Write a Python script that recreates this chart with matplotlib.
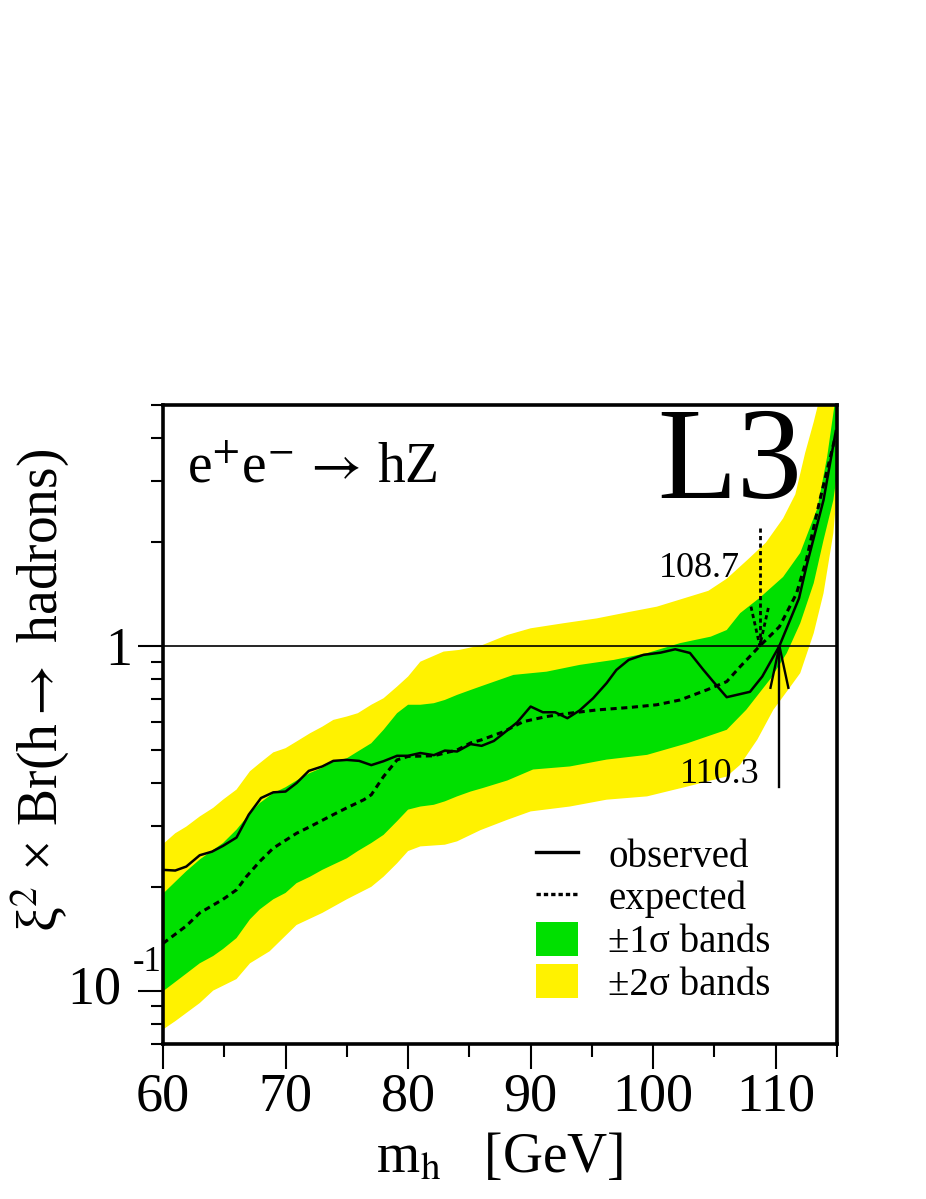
import numpy as np
import matplotlib
matplotlib.use("Agg")
import matplotlib.pyplot as plt
from matplotlib.lines import Line2D
from matplotlib.patches import Patch
from matplotlib.ticker import LogLocator, NullFormatter, FixedLocator, MultipleLocator

plt.rcParams["font.family"] = ["Liberation Serif", "DejaVu Serif"]
plt.rcParams["mathtext.fontset"] = "stix"

# +-2 sigma band (upper / lower edge)
m_2s_hi = [60, 61, 61.9, 63, 64.1, 64.9, 66, 67.1, 67.9, 69, 70, 70.9, 72, 73, 73.9, 75, 75.9, 77, 78, 79.1,
           80, 81, 82.9, 84.2, 86.1, 88.1, 90, 92.7, 95.4, 98.1, 100.3, 102.5, 104.5, 106, 107.7, 109.2,
           110.6, 111.6, 112.4, 113.1, 113.8, 115]
v_2s_hi = [0.266, 0.286, 0.299, 0.320, 0.339, 0.358, 0.383, 0.433, 0.457, 0.491, 0.505, 0.528, 0.558, 0.583,
           0.610, 0.624, 0.638, 0.675, 0.705, 0.762, 0.815, 0.900, 0.963, 0.974, 1.007, 1.076, 1.125, 1.164,
           1.202, 1.256, 1.300, 1.374, 1.445, 1.567, 1.778, 1.995, 2.344, 2.754, 3.631, 4.467, 5.62, 10.0]
m_2s_lo = [60, 61, 63, 64.1, 66, 67.1, 68.7, 70.9, 73, 75, 77, 78, 79.1, 80, 81, 83, 84, 85.9, 88.1, 90,
           93.2, 96.2, 99.5, 102.8, 106, 107.1, 108.5, 109.8, 111.2, 112, 113.1, 113.9, 114.7, 115]
v_2s_lo = [0.0771, 0.0815, 0.0920, 0.100, 0.108, 0.120, 0.130, 0.155, 0.168, 0.184, 0.200, 0.214, 0.234,
           0.254, 0.262, 0.265, 0.271, 0.292, 0.313, 0.331, 0.342, 0.358, 0.366, 0.391, 0.418, 0.452, 0.535,
           0.652, 0.762, 0.834, 1.089, 1.422, 2.123, 2.82]

# +-1 sigma band
m_1s_hi = [60, 61.9, 63, 64.1, 64.9, 66, 67.1, 67.9, 69, 70, 70.9, 72, 73, 73.9, 75, 75.9, 77, 78, 79.1, 80,
           81, 82.1, 83, 84, 85.1, 86.1, 88.6, 91.3, 94, 96.8, 99.5, 102.2, 104.7, 106, 107.1, 108.7, 110.6,
           112, 113.4, 114.2, 115]
v_1s_hi = [0.191, 0.222, 0.240, 0.256, 0.268, 0.293, 0.327, 0.350, 0.374, 0.389, 0.407, 0.428, 0.443, 0.462,
           0.472, 0.494, 0.522, 0.571, 0.638, 0.675, 0.675, 0.682, 0.697, 0.721, 0.745, 0.767, 0.824, 0.842,
           0.881, 0.911, 0.953, 1.019, 1.064, 1.112, 1.245, 1.380, 1.585, 1.862, 2.512, 3.548, 5.623]
m_1s_lo = [60, 61.9, 63, 64.1, 64.9, 66, 67.1, 67.9, 69, 70, 70.9, 72, 73, 73.9, 75, 75.9, 77, 78, 79.1, 80,
           81, 82.1, 83, 84, 85.1, 86.1, 88.1, 90.2, 93.2, 96.2, 99.5, 102.8, 106, 107.6, 109.6, 110.9, 112,
           113.1, 113.9, 114.7, 115]
v_1s_lo = [0.0995, 0.112, 0.120, 0.126, 0.132, 0.142, 0.161, 0.172, 0.184, 0.192, 0.205, 0.214, 0.224, 0.232,
           0.242, 0.254, 0.268, 0.283, 0.310, 0.335, 0.342, 0.346, 0.354, 0.366, 0.378, 0.387, 0.407, 0.438,
           0.447, 0.468, 0.483, 0.522, 0.571, 0.653, 0.805, 0.953, 1.164, 1.521, 2.028, 2.649, 3.162]

# observed limit
m_obs = [60, 61, 61.9, 63, 64, 64.9, 66, 67, 68, 69, 70, 70.9, 71.9, 73, 73.9, 75, 76, 77, 78, 79.1, 80, 81,
         82.1, 83, 84, 85.1, 86, 87, 87.8, 88.9, 90, 91, 92, 93, 94, 95.1, 96.2, 97, 98, 99.2, 100.6, 101.8,
         103, 104.1, 104.9, 106, 107.9, 108.9, 110.3, 111.9, 112.5, 113.9, 114.9]
v_obs = [0.224, 0.223, 0.229, 0.247, 0.253, 0.263, 0.278, 0.324, 0.362, 0.376, 0.378, 0.400, 0.434, 0.447,
         0.464, 0.467, 0.464, 0.451, 0.463, 0.480, 0.480, 0.489, 0.482, 0.497, 0.494, 0.519, 0.513, 0.530,
         0.558, 0.600, 0.667, 0.642, 0.642, 0.617, 0.650, 0.705, 0.780, 0.852, 0.911, 0.942, 0.956, 0.978,
         0.954, 0.852, 0.788, 0.710, 0.736, 0.815, 1.0, 1.375, 1.70, 2.65, 4.2]

# expected limit
m_exp = [60, 61.9, 63, 64.9, 66, 66.8, 67.9, 69, 70.9, 72, 73.9, 75, 76.4, 77, 78, 79.1, 80, 82.1, 84, 85.1,
         86, 87.8, 89.4, 91.3, 93.2, 95.4, 98.1, 100.3, 102.2, 104.4, 106, 107.1, 108.7, 110.3, 111.7, 112.5,
         113.6, 114.9]
v_exp = [0.137, 0.154, 0.168, 0.184, 0.196, 0.214, 0.237, 0.259, 0.286, 0.299, 0.324, 0.339, 0.358, 0.370,
         0.418, 0.467, 0.478, 0.480, 0.499, 0.523, 0.534, 0.564, 0.603, 0.624, 0.638, 0.652, 0.663, 0.675,
         0.697, 0.746, 0.788, 0.871, 1.0, 1.137, 1.42, 1.776, 2.65, 4.1]

lim_exp = 108.7
lim_obs = 110.3

green = "#00e000"
yellow = "#fff200"

fig = plt.figure(figsize=(9.26, 11.99), dpi=100)
ax = fig.add_axes([0.176, 0.1293, 0.7279, 0.5329])

ax.fill(m_2s_hi + m_2s_lo[::-1], v_2s_hi + v_2s_lo[::-1], color=yellow, lw=0)
ax.fill(m_1s_hi + m_1s_lo[::-1], v_1s_hi + v_1s_lo[::-1], color=green, lw=0)
ax.axhline(1.0, color="black", lw=1.2)
ax.plot(m_exp, v_exp, color="black", lw=2.2, linestyle=(0, (2.0, 1.5)))
ax.plot(m_obs, v_obs, color="black", lw=1.8)

# arrows marking the limits
ax.plot([lim_exp, lim_exp], [2.2, 1.0], color="black", lw=2.0, linestyle=(0, (1.5, 1.2)))
ax.plot([lim_exp - 0.72, lim_exp, lim_exp + 0.72], [1.3, 1.0, 1.3], color="black", lw=2.0,
        linestyle=(0, (1.5, 1.2)))
ax.plot([lim_obs, lim_obs], [0.39, 1.0], color="black", lw=1.7)
ax.plot([lim_obs - 0.73, lim_obs, lim_obs + 0.73], [0.756, 1.0, 0.756], color="black", lw=1.7)
ax.text(107.1, 1.585, "108.7", fontsize=26, ha="right", va="baseline")
ax.text(108.65, 0.401, "110.3", fontsize=26, ha="right", va="baseline")

ax.set_yscale("log")
ax.set_xlim(60, 115)
ax.set_ylim(0.07, 5.0)

ax.xaxis.set_major_locator(MultipleLocator(10))
ax.xaxis.set_minor_locator(MultipleLocator(5))
ax.yaxis.set_major_locator(FixedLocator([0.1, 1.0]))
ax.yaxis.set_minor_locator(LogLocator(base=10, subs=np.arange(2, 10)))
ax.yaxis.set_minor_formatter(NullFormatter())
ax.set_yticklabels(["", "1"])

ax.tick_params(axis="both", which="major", direction="out", length=18, width=1.5, labelsize=39)
ax.tick_params(axis="both", which="minor", direction="out", length=9, width=1.5)
ax.tick_params(axis="x", pad=2)
ax.tick_params(axis="y", pad=4)
for s in ax.spines.values():
    s.set_linewidth(2.6)

ax.text(-0.062, 0.1, "10", fontsize=39, ha="right", va="center",
        transform=ax.get_yaxis_transform())
ax.text(-0.024, 0.128, "-1", fontsize=25, ha="center", va="center", transform=ax.transAxes)

ax.set_xlabel(r"m$_{\mathrm{h}}$   [GeV]", fontsize=40)
ax.xaxis.set_label_coords(0.5, -0.137)
ax.set_ylabel(r"ξ$^{2}$ × Br(h$\rightarrow$ hadrons)", fontsize=40)
ax.yaxis.set_label_coords(-0.137, 0.554)

ax.text(0.036, 0.8795, r"e$^{+}$e$^{-}\,\rightarrow\,$hZ", fontsize=40, ha="left", va="baseline",
        transform=ax.transAxes)
ax.text(0.948, 0.854, "L3", fontsize=94, ha="right", va="baseline", transform=ax.transAxes)

handles = [Line2D([], [], color="black", lw=2.4),
           Line2D([], [], color="black", lw=2.4, linestyle=(0, (1.3, 0.9))),
           Patch(facecolor=green, edgecolor="none"),
           Patch(facecolor=yellow, edgecolor="none")]
labels = ["observed", "expected", "±1σ bands", "±2σ bands"]
ax.legend(handles, labels, loc="upper left", bbox_to_anchor=(0.553, 0.325), frameon=False, fontsize=28,
          borderpad=0, borderaxespad=0, handlelength=1.1, handleheight=0.98, handletextpad=0.77,
          labelspacing=0.08)

fig.savefig("out.png", dpi=100)
